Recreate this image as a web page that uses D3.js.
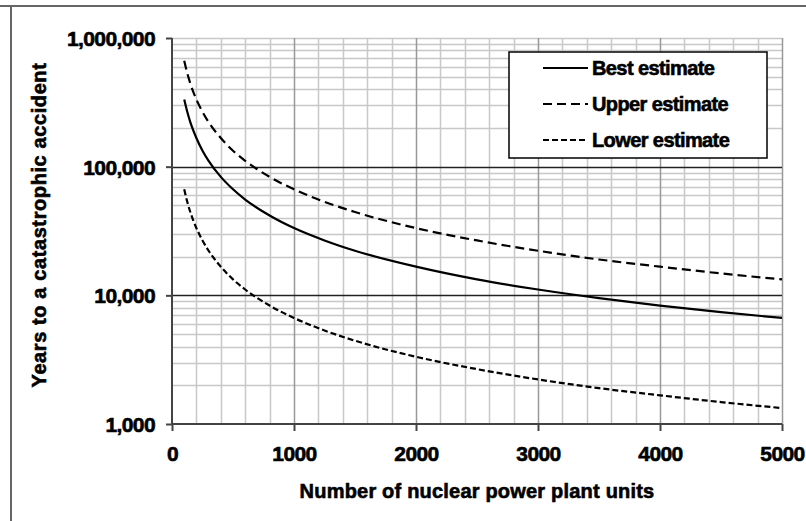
<!DOCTYPE html>
<html>
<head>
<meta charset="utf-8">
<script src="https://cdn.jsdelivr.net/npm/d3@7"></script>
<style>
  body { margin: 0; background: #fff; }
  svg text { font-family: "Liberation Sans", Arial, sans-serif; font-weight: bold; fill: #000; stroke: #000; stroke-width: 0.6px; }
</style>
</head>
<body>
<svg width="806" height="521"></svg>
<script>
// values
var units = [100, 125, 150, 200, 250, 300, 400, 500, 600, 800, 1000, 1250, 1500, 2000, 2500, 3000, 3500, 4000, 4500, 5000];
var best  = [333000, 267000, 222000, 167000, 133000, 111000, 83300, 66700, 55500, 41700, 33300, 26700, 22200, 16700, 13300, 11100, 9520, 8330, 7400, 6670];
var upper = [667000, 533000, 444000, 333000, 267000, 222000, 167000, 133000, 111000, 83300, 66700, 53300, 44400, 33300, 26700, 22200, 19000, 16700, 14800, 13300];
var lower = [66700, 53300, 44400, 33300, 26700, 22200, 16700, 13300, 11100, 8330, 6670, 5330, 4440, 3330, 2670, 2220, 1900, 1670, 1480, 1330];
var seriesNames = ["Best estimate", "Upper estimate", "Lower estimate"];
var xTicks = [0, 1000, 2000, 3000, 4000, 5000];
var yTicks = [1000, 10000, 100000, 1000000];

var svg = d3.select("svg");
var padding = {top: 38, left: 172, right: 24, bottom: 97};
var width = +svg.attr("width"), height = +svg.attr("height");
var canvasWidth = width - padding.left - padding.right;
var canvasHeight = height - padding.top - padding.bottom;

// frame
svg.append("line").attr("x1", 0).attr("x2", width).attr("y1", 6).attr("y2", 6)
  .style("stroke", "#666").style("stroke-width", 2);
svg.append("line").attr("x1", 11).attr("x2", 11).attr("y1", 5).attr("y2", height)
  .style("stroke", "#666").style("stroke-width", 2);

var x = d3.scaleLinear().domain([0, 5000]).range([0, canvasWidth]);
var y = d3.scaleLog().domain([1000, 1000000]).range([canvasHeight, 0]);

var canvas = svg.append("g")
  .attr("transform", "translate(" + padding.left + "," + padding.top + ")");

// minor grid
var minorY = [];
[1000, 10000, 100000].forEach(function(d) {
  for (var k = 2; k <= 9; k++) minorY.push(d * k);
});
canvas.selectAll(".gy").data(minorY).enter().append("line")
  .attr("x1", 0).attr("x2", canvasWidth)
  .attr("y1", function(d) { return Math.round(y(d)) + 0.5; })
  .attr("y2", function(d) { return Math.round(y(d)) + 0.5; })
  .style("stroke", "#c8c8c8").style("stroke-width", 1.5);
canvas.append("line").attr("x1", 0).attr("x2", canvasWidth)
  .attr("y1", 0.5).attr("y2", 0.5).style("stroke", "#c8c8c8").style("stroke-width", 1.5);

var minorX = d3.range(200, 5001, 200).filter(function(d) { return d % 1000 != 0; });
canvas.selectAll(".gx").data(minorX).enter().append("line")
  .attr("y1", 0).attr("y2", canvasHeight)
  .attr("x1", function(d) { return Math.round(x(d)) + 0.5; })
  .attr("x2", function(d) { return Math.round(x(d)) + 0.5; })
  .style("stroke", "#c8c8c8").style("stroke-width", 1.5);
canvas.selectAll(".gxm").data(xTicks.slice(1)).enter().append("line")
  .attr("y1", 0).attr("y2", canvasHeight)
  .attr("x1", function(d) { return Math.round(x(d)) + 0.5; })
  .attr("x2", function(d) { return Math.round(x(d)) + 0.5; })
  .style("stroke", "#999").style("stroke-width", 1.5);

// major horizontal lines
canvas.selectAll(".gym").data([10000, 100000]).enter().append("line")
  .attr("x1", 0).attr("x2", canvasWidth)
  .attr("y1", function(d) { return Math.round(y(d)) + 0.5; })
  .attr("y2", function(d) { return Math.round(y(d)) + 0.5; })
  .style("stroke", "#222").style("stroke-width", 1.5);

// axes
var xAxis = d3.axisBottom(x).tickValues(xTicks).tickSize(7).tickPadding(15)
  .tickFormat(d3.format("d"));
var yAxis = d3.axisLeft(y).tickValues(yTicks).tickSize(6).tickPadding(11)
  .tickFormat(d3.format(",d"));

var gX = canvas.append("g").attr("transform", "translate(0," + canvasHeight + ")").call(xAxis);
var gY = canvas.append("g").call(yAxis);
[gX, gY].forEach(function(g) {
  g.select(".domain").style("stroke", "#444").style("stroke-width", 2);
  g.selectAll(".tick line").style("stroke", "#444").style("stroke-width", 2);
  g.selectAll(".tick text").style("font-size", "21px").style("font-family", "Liberation Sans, Arial, sans-serif")
    .style("font-weight", "bold").style("letter-spacing", "-0.6px").attr("fill", "#000");
});
gY.selectAll(".tick text").attr("dy", "0.36em");
gY.select(".domain").attr("d", "M0," + canvasHeight + "V0");
gX.select(".domain").attr("d", "M0,0H" + canvasWidth);

// series
var dashes = [null, "9,5", "6,3"];
var seriesData = [best, upper, lower];
var line = d3.line()
  .x(function(d) { return x(d[0]); })
  .y(function(d) { return y(d[1]); })
  .curve(d3.curveMonotoneX);

seriesData.forEach(function(vals, i) {
  var pts = units.map(function(u, j) { return [u, vals[j]]; });
  canvas.append("path")
    .attr("d", line(pts))
    .style("fill", "none")
    .style("stroke", "#000")
    .style("stroke-width", 2.2)
    .style("stroke-dasharray", dashes[i]);
});

// legend
var legend = svg.append("g").attr("transform", "translate(509,52)");
legend.append("rect").attr("width", 258).attr("height", 106)
  .style("fill", "#fff").style("stroke", "#000").style("stroke-width", 1.5);
seriesNames.forEach(function(name, i) {
  var ly = 16 + i * 36;
  legend.append("line").attr("x1", 34).attr("x2", 79).attr("y1", ly).attr("y2", ly)
    .style("stroke", "#000").style("stroke-width", 2.2)
    .style("stroke-dasharray", dashes[i]);
  legend.append("text").attr("x", 83).attr("y", ly + 7)
    .style("font-size", "20px").style("letter-spacing", "-0.6px")
    .text(name);
});

// axis titles
svg.append("text")
  .attr("x", padding.left + canvasWidth / 2).attr("y", 498)
  .attr("text-anchor", "middle")
  .style("font-size", "20px").style("letter-spacing", "0.2px")
  .text("Number of nuclear power plant units");

svg.append("text")
  .attr("transform", "translate(46," + (padding.top + canvasHeight / 2 - 6) + ") rotate(-90)")
  .attr("text-anchor", "middle")
  .style("font-size", "20px").style("letter-spacing", "0.6px")
  .text("Years to a catastrophic accident");
</script>
</body>
</html>
